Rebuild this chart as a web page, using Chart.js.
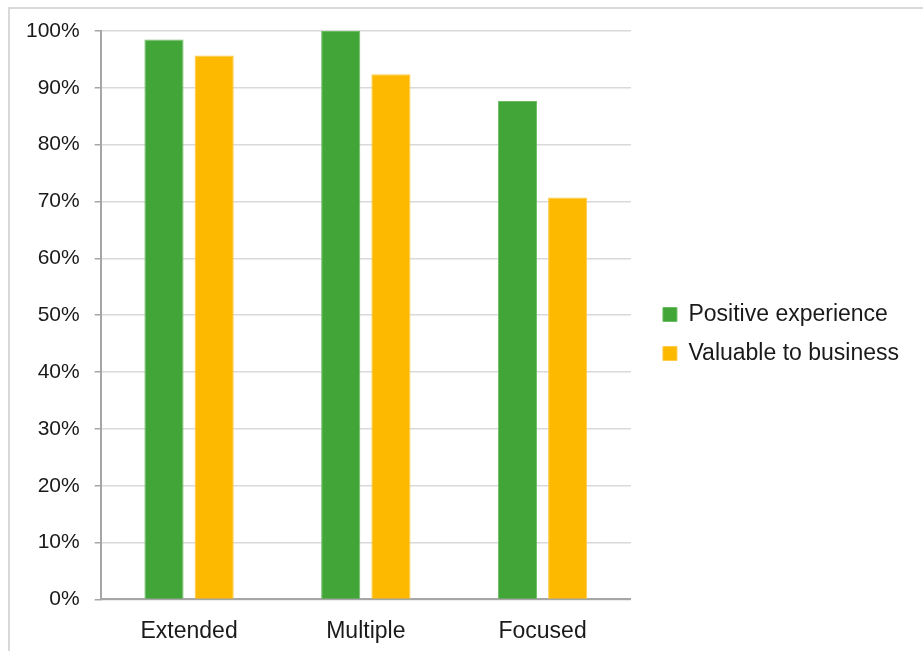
<!DOCTYPE html>
<html>
<head>
<meta charset="utf-8">
<script src="https://cdn.jsdelivr.net/npm/chart.js@4/dist/chart.umd.min.js"></script>
<style>
  html, body { margin: 0; padding: 0; background: #fff; overflow: hidden; }
  #frame {
    position: absolute; left: 8px; top: 7px; width: 940px; height: 660px;
    border-left: 2px solid #d9d9d9; border-top: 2px solid #d9d9d9;
  }
  #wrap { position: absolute; left: 0; top: 0; width: 923px; height: 663px; }
</style>
</head>
<body>
<div id="frame"></div>
<div id="wrap"><canvas id="chart"></canvas></div>
<script>
const categories = ["Extended", "Multiple", "Focused"];
const positiveExperience = [98.5, 100, 87.7];
const valuableToBusiness = [95.7, 92.4, 70.7];
const yTickLabels = ["0%", "10%", "20%", "30%", "40%", "50%", "60%", "70%", "80%", "90%", "100%"];

const textColor = "#1a1a1a";
const fontFamily = "'Liberation Sans', Arial, sans-serif";

// nudge the legend right/up, like the original
const legendNudge = {
    id: "legendNudge",
    afterLayout(chart) {
        const lg = chart.legend;
        lg.left += 16;
        lg.right += 16;
        lg.top -= 13;
        lg.bottom -= 13;
    }
};

const ctx = document.getElementById("chart").getContext("2d");

new Chart(ctx, {
    type: "bar",
    data: {
        labels: categories,
        datasets: [{
            label: "Positive experience",
            data: positiveExperience,
            backgroundColor: "#41a537",
            borderColor: "#6cbd62",
            borderWidth: 1
        }, {
            label: "Valuable to business",
            data: valuableToBusiness,
            backgroundColor: "#fcb900",
            borderColor: "#fdcb45",
            borderWidth: 1
        }]
    },
    options: {
        responsive: true,
        maintainAspectRatio: false,
        animation: false,
        layout: {
            padding: { left: 11, top: 31, right: 30, bottom: 0 }
        },
        datasets: {
            bar: {
                categoryPercentage: 0.568,
                barPercentage: 0.78
            }
        },
        scales: {
            x: {
                grid: { display: false, drawTicks: false },
                border: { color: "#a6a6a6", width: 2 },
                ticks: {
                    color: textColor,
                    padding: 18,
                    font: { family: fontFamily, size: 23 }
                }
            },
            y: {
                min: 0,
                max: 100,
                grid: {
                    color: "#d9d9d9",
                    lineWidth: 1.5,
                    tickColor: "#a6a6a6",
                    tickLength: 6
                },
                border: { color: "#a6a6a6", width: 2 },
                ticks: {
                    stepSize: 10,
                    color: textColor,
                    padding: 15,
                    font: { family: fontFamily, size: 21 },
                    callback: function(value, index) {
                        return yTickLabels[index];
                    }
                }
            }
        },
        plugins: {
            legend: {
                position: "right",
                maxWidth: 320,
                labels: {
                    color: textColor,
                    boxWidth: 14,
                    boxHeight: 14,
                    padding: 16,
                    font: { family: fontFamily, size: 23 }
                }
            },
            tooltip: { enabled: false }
        }
    },
    plugins: [legendNudge]
});
</script>
</body>
</html>
